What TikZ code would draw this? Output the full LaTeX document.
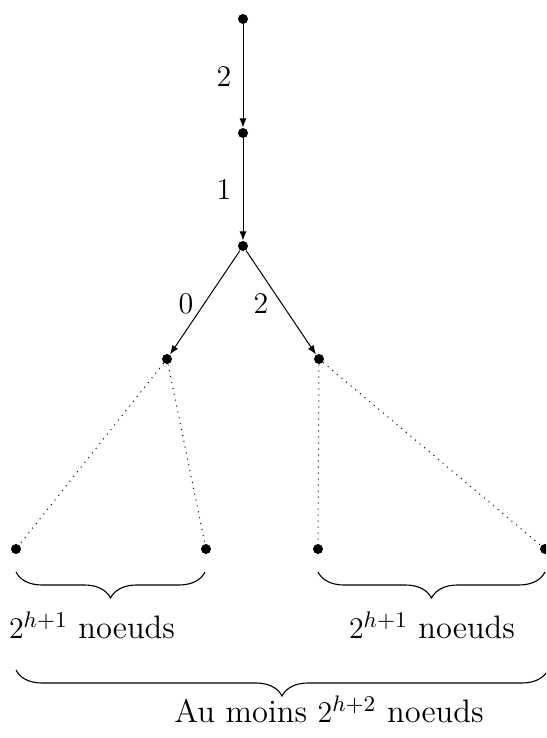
\documentclass[tikz,border=0pt]{standalone}
\usetikzlibrary{arrows.meta,decorations.pathreplacing}
\begin{document}
\begin{tikzpicture}[x=0.4pt,y=-0.4pt,
  dot/.style={circle,fill,inner sep=0pt,minimum size=4pt},
  arr/.style={-{Latex[length=3.6pt,width=2.8pt]},line width=0.4pt},
  dotl/.style={dotted,line width=0.4pt},
  lbl/.style={font=\fontsize{13}{15}\selectfont,inner sep=0pt},
  brc/.style={decorate,line width=0.45pt,decoration={brace,mirror,amplitude=10.4pt}}]
\clip (0,0) rectangle (546,738);
\useasboundingbox (0,0) rectangle (546,738);
% nodes
\node[dot] (a) at (243,19) {};
\node[dot] (b) at (243,133) {};
\node[dot] (c) at (243,246) {};
\node[dot] (d) at (167,359) {};
\node[dot] (e) at (319,359) {};
\node[dot] (f1) at (16,549) {};
\node[dot] (f2) at (206,549) {};
\node[dot] (g1) at (318,549) {};
\node[dot] (g2) at (545,549) {};
% arrows
\draw[arr] (a) -- (b);
\draw[arr] (b) -- (c);
\draw[arr] (c) -- (d);
\draw[arr] (c) -- (e);
% edge labels
\node[lbl] (l1) at (224,77) {$2$};
\node[lbl] (l2) at (224,190) {$1$};
\node[lbl] (l3) at (186,304) {$0$};
\node[lbl] (l4) at (261,304) {$2$};
% dotted
\draw[dotl] (d) -- (f1);
\draw[dotl] (d) -- (f2);
\draw[dotl] (e) -- (g1);
\draw[dotl] (e) -- (g2);
% braces
\coordinate (b1s) at (16,572);
\coordinate (b1e) at (205,572);
\coordinate (b2s) at (318,572);
\coordinate (b2e) at (545,572);
\coordinate (b3s) at (16,670);
\coordinate (b3e) at (548,670);
\draw[brc] (b1s) -- (b1e);
\draw[brc] (b2s) -- (b2e);
\draw[brc] (b3s) -- (b3e);
% texts
\node[lbl,anchor=base] (t1) at (92,638) {$2^{h+1}$ noeuds};
\node[lbl,anchor=base] (t2) at (432,638) {$2^{h+1}$ noeuds};
\node[lbl,anchor=base] (t3) at (329,722) {Au moins $2^{h+2}$ noeuds};
\end{tikzpicture}
\end{document}
